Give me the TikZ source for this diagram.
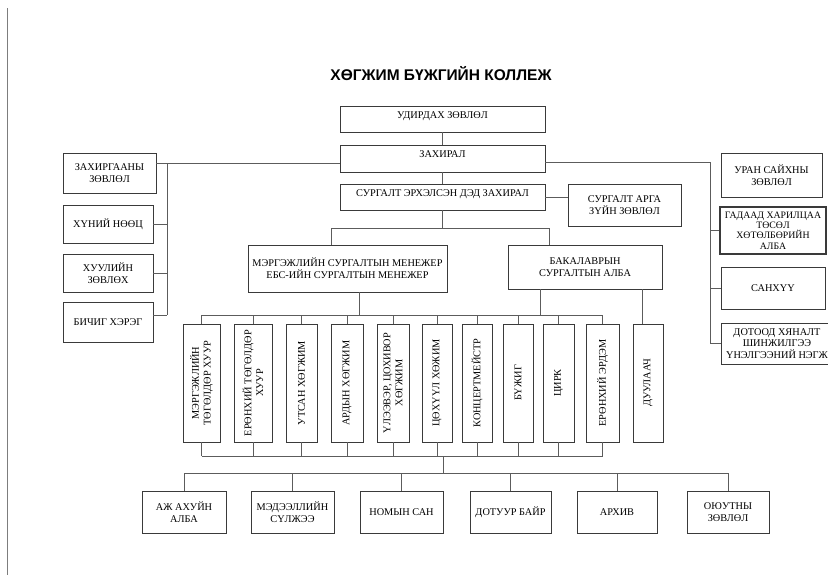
\documentclass[tikz,border=0pt]{standalone}
\usepackage{fontspec}
\setmainfont{Liberation Serif}
\newfontfamily\titlefont{Liberation Sans}
\usepackage{tikz}
\usetikzlibrary{positioning}
\definecolor{boxline}{HTML}{3A3A3A}
\definecolor{wire}{HTML}{5C5C5C}

\begin{document}
\begin{tikzpicture}[x=1pt,y=-1pt,on grid,
    font=\fontsize{10.3}{11.8}\selectfont,
    unit/.style={draw=boxline,line width=0.8pt,align=center,inner sep=1pt},
    upper/.style={text height=6.5pt,text depth=8.5pt},
    dense/.style={font=\fontsize{9.8}{10.4}\selectfont},
    column/.style={draw=boxline,line width=0.8pt,minimum height=118pt,inner sep=0pt},
    sideways/.style={rotate=90,align=center,inner sep=0pt},
    wires/.style={draw=wire,line width=0.7pt}]

      \useasboundingbox (0,0) rectangle (828,582);
      \draw[wire!80,line width=0.8pt] (7,8) -- (7,575);

      \node[font=\titlefont\bfseries\fontsize{15.5}{18}\selectfont] (title) at (441,74) {ХӨГЖИМ БҮЖГИЙН КОЛЛЕЖ};

      \node[unit,upper,minimum width=205pt,minimum height=26pt] (udirdah) at (442.5,119) {УДИРДАХ ЗӨВЛӨЛ};
      \node[unit,upper,minimum width=205pt,minimum height=27pt] (zahiral) [below=39.5pt of udirdah] {ЗАХИРАЛ};
      \node[unit,upper,minimum width=205pt,minimum height=26pt] (ded_zahiral) [below=38.5pt of zahiral] {СУРГАЛТ ЭРХЭЛСЭН ДЭД ЗАХИРАЛ};
      \node[unit,minimum width=113pt,minimum height=42pt] (arga_zuin) at (624.5,205) {СУРГАЛТ АРГА\\ЗҮЙН ЗӨВЛӨЛ};

      \node[unit,minimum width=93pt,minimum height=40pt] (zahirgaa) at (109.5,173) {ЗАХИРГААНЫ\\ЗӨВЛӨЛ};
      \node[unit,minimum width=90pt,minimum height=38pt] (hunii) at (108,224) {ХҮНИЙ НӨӨЦ};
      \node[unit,minimum width=90pt,minimum height=38pt] (huuli) [below=49pt of hunii] {ХУУЛИЙН\\ЗӨВЛӨХ};
      \node[unit,minimum width=90pt,minimum height=40pt] (bichig) [below=49pt of huuli] {БИЧИГ ХЭРЭГ};

      \node[unit,minimum width=101pt,minimum height=44pt] (uran) at (771.5,175) {УРАН САЙХНЫ\\ЗӨВЛӨЛ};
      \node[unit,dense,line width=1.3pt,minimum width=106pt,minimum height=47pt] (gadaad) at (773,230.5) {ГАДААД ХАРИЛЦАА\\ТӨСӨЛ\\ХӨТӨЛБӨРИЙН\\АЛБА};
      \node[unit,minimum width=104pt,minimum height=42pt] (sanhuu) at (773,288) {САНХҮҮ};
      \node[unit,minimum width=112pt,minimum height=41pt] (dotood) at (777,343.5) {ДОТООД ХЯНАЛТ\\ШИНЖИЛГЭЭ\\ҮНЭЛГЭЭНИЙ НЭГЖ};

      \node[unit,minimum width=199pt,minimum height=47pt] (mergejil) at (347.5,268.5) {МЭРГЭЖЛИЙН СУРГАЛТЫН МЕНЕЖЕР\\ЕБС-ИЙН СУРГАЛТЫН МЕНЕЖЕР};
      \node[unit,minimum width=154pt,minimum height=44pt] (bakalavr) at (585,267) {БАКАЛАВРЫН\\СУРГАЛТЫН АЛБА};

      \node[column,minimum width=37pt,label={[sideways]center:{МЭРГЭЖЛИЙН\\ТӨГӨЛДӨР ХУУР}}] (toguldor) at (201.5,383) {};
      \node[column,minimum width=38pt,label={[sideways]center:{ЕРӨНХИЙ ТӨГӨЛДӨР\\ХУУР}}] (ernhii_tog) at (253,383) {};
      \node[column,minimum width=31pt,label={[sideways]center:{УТСАН ХӨГЖИМ}}] (utsan) at (301.5,383) {};
      \node[column,minimum width=32pt,label={[sideways]center:{АРДЫН ХӨГЖИМ}}] (ardyn) at (347,383) {};
      \node[column,minimum width=32pt,label={[sideways]center:{ҮЛЭЭВЭР, ЦОХИВОР\\ХӨГЖИМ}}] (uleever) at (393,383) {};
      \node[column,minimum width=30pt,label={[sideways]center:{ЦӨХҮҮЛ ХӨЖИМ}}] (tsuhuul) at (437,383) {};
      \node[column,minimum width=30pt,label={[sideways]center:{КОНЦЕРТМЕЙСТР}}] (koncert) at (477,383) {};
      \node[column,minimum width=30pt,label={[sideways]center:{БҮЖИГ}}] (bujig) at (518,383) {};
      \node[column,minimum width=31pt,label={[sideways]center:{ЦИРК}}] (tsirk) at (558.5,383) {};
      \node[column,minimum width=33pt,label={[sideways]center:{ЕРӨНХИЙ ЭРДЭМ}}] (erdem) at (602.5,383) {};
      \node[column,minimum width=30pt,label={[sideways]center:{ДУУЛААЧ}}] (duulaach) at (648,383) {};

      \node[unit,minimum width=84pt,minimum height=42pt] (aj_ahui) at (184,512) {АЖ АХУЙН\\АЛБА};
      \node[unit,minimum width=83pt,minimum height=42pt] (medeelel) at (292.5,512) {МЭДЭЭЛЛИЙН\\СҮЛЖЭЭ};
      \node[unit,minimum width=83pt,minimum height=42pt] (nomyn_san) at (401.5,512) {НОМЫН САН};
      \node[unit,minimum width=81pt,minimum height=42pt] (dotuur) at (510.5,512) {ДОТУУР БАЙР};
      \node[unit,minimum width=80pt,minimum height=42pt] (arhiv) at (617,512) {АРХИВ};
      \node[unit,minimum width=82pt,minimum height=42pt] (oyutan) at (728,512) {ОЮУТНЫ\\ЗӨВЛӨЛ};

      \coordinate (l_top) at (167,163);
      \coordinate (l_bot) at (167,315);
      \coordinate (r_top) at (710,162);
      \coordinate (m_left) at (331,228);
      \coordinate (m_right) at (549,228);
      \coordinate (t_bus) at (0,315);
      \coordinate (t_in_m) at (359,315);
      \coordinate (t_in_b) at (540,315);
      \coordinate (d_feed) at (642,0);
      \coordinate (b_bus) at (443,456);
      \coordinate (c_bus) at (443,473);

      \path[wires]
      (udirdah) edge (zahiral)
      (zahiral) edge (ded_zahiral)
      (ded_zahiral.east) edge (arga_zuin.west |- ded_zahiral.east)
      (zahiral.west |- l_top) edge (zahirgaa.east |- l_top)
      (l_top) edge (l_bot)
      (hunii.east) edge (l_top |- hunii.east)
      (huuli.east) edge (l_top |- huuli.east)
      (bichig.east |- l_bot) edge (l_bot)
      (zahiral.east |- r_top) edge (r_top)
      (r_top) edge (r_top |- dotood.west)
      (gadaad.west) edge (r_top |- gadaad.west)
      (sanhuu.west) edge (r_top |- sanhuu.west)
      (dotood.west) edge (r_top |- dotood.west)
      (ded_zahiral) edge (ded_zahiral |- m_left)
      (m_left) edge (m_right)
      (m_left) edge (m_left |- mergejil.north)
      (m_right) edge (m_right |- bakalavr.north)
      (t_in_m) edge (t_in_m |- mergejil.south)
      (t_in_b) edge (t_in_b |- bakalavr.south)
      (d_feed |- bakalavr.south) edge (d_feed |- duulaach.north)
      (toguldor.north |- t_bus) edge (erdem.north |- t_bus)
      (toguldor.north) edge (toguldor.north |- t_bus)
      (ernhii_tog.north) edge (ernhii_tog.north |- t_bus)
      (utsan.north) edge (utsan.north |- t_bus)
      (ardyn.north) edge (ardyn.north |- t_bus)
      (uleever.north) edge (uleever.north |- t_bus)
      (tsuhuul.north) edge (tsuhuul.north |- t_bus)
      (koncert.north) edge (koncert.north |- t_bus)
      (bujig.north) edge (bujig.north |- t_bus)
      (tsirk.north) edge (tsirk.north |- t_bus)
      (erdem.north) edge (erdem.north |- t_bus)
      (toguldor.south |- b_bus) edge (erdem.south |- b_bus)
      (toguldor.south) edge (toguldor.south |- b_bus)
      (ernhii_tog.south) edge (ernhii_tog.south |- b_bus)
      (utsan.south) edge (utsan.south |- b_bus)
      (ardyn.south) edge (ardyn.south |- b_bus)
      (uleever.south) edge (uleever.south |- b_bus)
      (tsuhuul.south) edge (tsuhuul.south |- b_bus)
      (koncert.south) edge (koncert.south |- b_bus)
      (bujig.south) edge (bujig.south |- b_bus)
      (tsirk.south) edge (tsirk.south |- b_bus)
      (erdem.south) edge (erdem.south |- b_bus)
      (b_bus) edge (c_bus)
      (aj_ahui.north |- c_bus) edge (oyutan.north |- c_bus)
      (aj_ahui.north) edge (aj_ahui.north |- c_bus)
      (medeelel.north) edge (medeelel.north |- c_bus)
      (nomyn_san.north) edge (nomyn_san.north |- c_bus)
      (dotuur.north) edge (dotuur.north |- c_bus)
      (arhiv.north) edge (arhiv.north |- c_bus)
      (oyutan.north) edge (oyutan.north |- c_bus)
      ;
    \end{tikzpicture}
\end{document}
